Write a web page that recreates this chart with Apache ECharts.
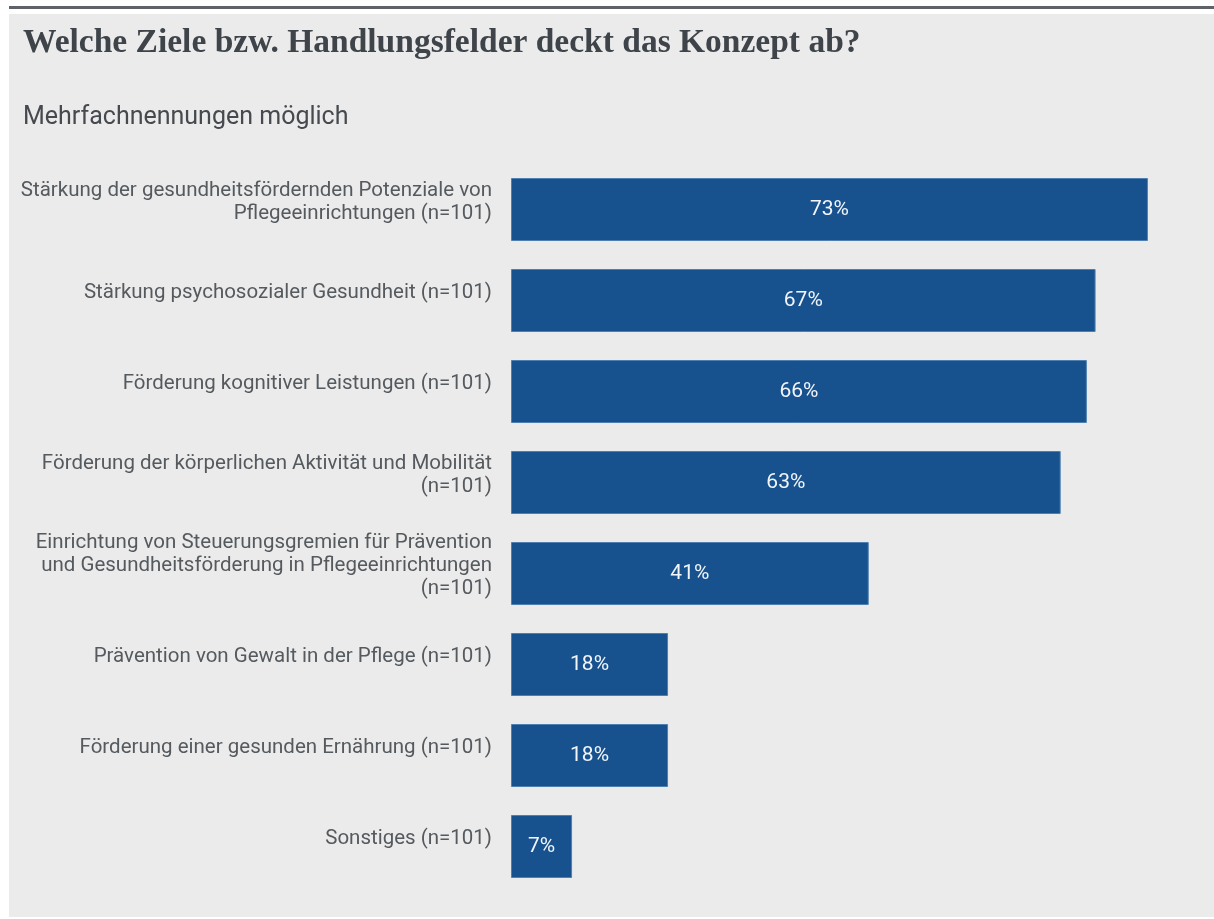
<!DOCTYPE html>
<html>
<head>
<meta charset="utf-8">
<script src="https://cdn.jsdelivr.net/npm/echarts@6/dist/echarts.min.js"></script>
<style>
  html, body { margin: 0; padding: 0; background: #ffffff; }
  #chart { width: 1214px; height: 919px; }
</style>
</head>
<body>
<div id="chart"></div>
<script>
// Handlungsfelder, top to bottom
const categories = [
  'Stärkung der gesundheitsfördernden Potenziale von\nPflegeeinrichtungen (n=101)',
  'Stärkung psychosozialer Gesundheit (n=101)',
  'Förderung kognitiver Leistungen (n=101)',
  'Förderung der körperlichen Aktivität und Mobilität\n(n=101)',
  'Einrichtung von Steuerungsgremien für Prävention\nund Gesundheitsförderung in Pflegeeinrichtungen\n(n=101)',
  'Prävention von Gewalt in der Pflege (n=101)',
  'Förderung einer gesunden Ernährung (n=101)',
  'Sonstiges (n=101)'
];
// Anteil der Nennungen in Prozent
const shares = [73, 67, 66, 63, 41, 18, 18, 7];

const chart = echarts.init(document.getElementById('chart'), null, { renderer: 'canvas' });

// category text sits a little above the bar centre: a short spacer line under each label
const labelFormatter = (v) => v.split('\n').map(l => '{t|' + l + '}').join('\n') + '\n{s| }';

chart.setOption({
  backgroundColor: '#ffffff',
  animation: false,
  graphic: [
    { type: 'rect', z: -10, shape: { x: 9, y: 14, width: 1205, height: 903 }, style: { fill: '#ebebeb' } },
    { type: 'rect', z: -10, shape: { x: 9, y: 6, width: 1205, height: 3 }, style: { fill: '#5f6369' } }
  ],
  title: [
    {
      text: 'Welche Ziele bzw. Handlungsfelder deckt das Konzept ab?',
      left: 18, top: 21,
      textStyle: { fontFamily: 'Liberation Serif', fontWeight: 'bold', fontSize: 33.5, color: '#3e4449' }
    },
    {
      text: 'Mehrfachnennungen möglich',
      left: 18, top: 100,
      textStyle: { fontFamily: 'Roboto', fontWeight: 'normal', fontSize: 25, color: '#464a4e' }
    }
  ],
  grid: { left: 511, right: 5, top: 164, bottom: 27, containLabel: false },
  xAxis: {
    type: 'value', min: 0, max: 80,
    show: false
  },
  yAxis: {
    type: 'category',
    data: categories,
    inverse: true,
    axisLine: { show: false },
    axisTick: { show: false },
    axisLabel: {
      margin: 19,
      align: 'right',
      verticalAlign: 'middle',
      formatter: labelFormatter,
      rich: {
        t: { fontFamily: 'Roboto', fontSize: 20.5, lineHeight: 23, color: '#555a5e', align: 'right' },
        s: { fontSize: 10, lineHeight: 15 }
      }
    }
  },
  series: [{
    type: 'bar',
    data: shares,
    barWidth: 63,
    itemStyle: { color: '#17528f', borderColor: '#4f7fb0', borderWidth: 1 },
    label: {
      show: true,
      position: 'inside',
      formatter: '{c}%',
      fontFamily: 'Roboto',
      fontSize: 21,
      color: '#f2f5fa'
    }
  }]
});
</script>
</body>
</html>
